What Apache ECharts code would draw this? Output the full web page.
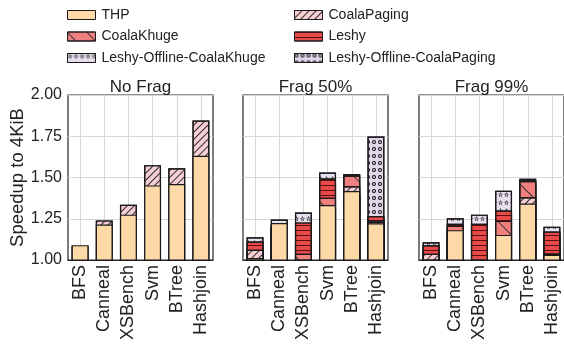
<!DOCTYPE html>
<html>
<head>
<meta charset="utf-8">
<script src="https://cdn.jsdelivr.net/npm/echarts@6/dist/echarts.min.js"></script>
<style>
html, body { margin: 0; padding: 0; background: #fff; }
#chart { width: 564px; height: 345px; }
</style>
</head>
<body>
<div id="chart"></div>
<script>
// ---- data ----
const categories = ['BFS', 'Canneal', 'XSBench', 'Svm', 'BTree', 'Hashjoin'];
const methods = ['THP', 'CoalaPaging', 'CoalaKhuge', 'Leshy', 'Leshy-Offline-CoalaKhuge', 'Leshy-Offline-CoalaPaging'];
const panelTitles = ['No Frag', 'Frag 50%', 'Frag 99%'];
const yTicks = [1.00, 1.25, 1.50, 1.75, 2.00];

// No Frag
const noFragTHP         = [1.090, 1.215, 1.275, 1.452, 1.460, 1.632];
const noFragCoalaPaging = [1.085, 1.240, 1.335, 1.575, 1.556, 1.845];
const noFragCoalaKhuge  = [null, null, null, null, null, null];
const noFragLeshy       = [null, null, null, null, null, null];
const noFragLOCK        = [null, null, null, null, null, null];
const noFragLOCP        = [null, null, null, null, null, null];

// Frag 50%
const frag50THP         = [1.012, 1.224, 0.990, 1.333, 1.418, 1.222];
const frag50CoalaPaging = [1.062, 1.200, 1.000, 1.310, 1.447, 1.232];
const frag50CoalaKhuge  = [1.005, 1.190, 1.038, 1.377, 1.512, 1.240];
const frag50Leshy       = [1.112, 1.210, 1.228, 1.494, 1.521, 1.266];
const frag50LOCK        = [1.138, 1.245, 1.288, 1.530, 1.400, 1.245];
const frag50LOCP        = [1.050, 1.215, 1.100, 1.450, 1.380, 1.748];

// Frag 99%
const frag99THP         = [0.980, 1.181, 0.980, 1.152, 1.342, 1.032];
const frag99CoalaPaging = [1.038, 1.150, 0.990, 1.130, 1.380, 1.036];
const frag99CoalaKhuge  = [1.020, 1.207, 1.000, 1.237, 1.478, 1.040];
const frag99Leshy       = [1.089, 1.220, 1.220, 1.300, 1.484, 1.172];
const frag99LOCK        = [1.108, 1.253, 1.275, 1.420, 1.492, 1.202];
const frag99LOCP        = [1.060, 1.190, 1.200, 1.280, 1.450, 1.150];

const panels = [
  [noFragTHP, noFragCoalaPaging, noFragCoalaKhuge, noFragLeshy, noFragLOCK, noFragLOCP],
  [frag50THP, frag50CoalaPaging, frag50CoalaKhuge, frag50Leshy, frag50LOCK, frag50LOCP],
  [frag99THP, frag99CoalaPaging, frag99CoalaKhuge, frag99Leshy, frag99LOCK, frag99LOCP]
];

// ---- styles ----
const FONT = '"Liberation Sans", Arial, sans-serif';
const INK = '#222';
const EDGE = '#1a1a1a';

function starRing() {
  // outlined five-point star: outer outline clockwise, inner outline reversed
  const pts = (scale, reverse) => {
    const out = [];
    for (let i = 0; i < 10; i++) {
      const a = -Math.PI / 2 + i * Math.PI / 5;
      const r = (i % 2 === 0 ? 5 : 2.2) * scale;
      out.push([5 + r * Math.cos(a), 5 + r * Math.sin(a)]);
    }
    if (reverse) out.reverse();
    return 'M' + out.map(p => p[0].toFixed(2) + ',' + p[1].toFixed(2)).join('L') + 'Z';
  };
  return 'path://' + pts(1, false) + pts(0.55, true);
}
const ringPath = 'path://M0,5A5,5,0,1,0,10,5A5,5,0,1,0,0,5ZM2.6,5A2.4,2.4,0,1,1,7.4,5A2.4,2.4,0,1,1,2.6,5Z';

const methodStyle = {
  'THP': { color: '#fed9a8' },
  'CoalaPaging': { color: '#f8cfd4', decal: { symbol: 'rect', symbolSize: 1, dashArrayX: [1, 0], dashArrayY: [1, 4], rotation: -Math.PI / 4, color: '#333' } },
  'CoalaKhuge': { color: '#f07f7f', decal: { symbol: 'rect', symbolSize: 1, dashArrayX: [1, 0], dashArrayY: [1, 13], rotation: Math.PI / 4, color: '#333' } },
  'Leshy': { color: '#e84a4a', decal: { symbol: 'rect', symbolSize: 1, dashArrayX: [1, 0], dashArrayY: [1, 4], rotation: 0, color: '#5a1010' } },
  'Leshy-Offline-CoalaKhuge': { color: '#e8e0ee', decal: { symbol: starRing(), symbolSize: 1, dashArrayX: [5, 1], dashArrayY: [5, 3], color: '#111' } },
  'Leshy-Offline-CoalaPaging': { color: '#e2d7ea', decal: { symbol: ringPath, symbolSize: 1, dashArrayX: [4, 2], dashArrayY: [4, 3], color: '#111' } }
};

function itemStyleOf(m) {
  const s = methodStyle[m];
  const st = { color: s.color, borderColor: EDGE, borderWidth: 1.2 };
  if (s.decal) st.decal = s.decal;
  return st;
}

// ---- layout ----
const gridLeft = [68, 243, 419];
const gridWidth = 145;
const gridTop = 95;
const gridHeight = 165;

const grids = gridLeft.map(l => ({
  left: l, top: gridTop, width: gridWidth, height: gridHeight,
  show: true, borderColor: '#262626', borderWidth: 1.2, backgroundColor: 'transparent'
}));

const xAxes = gridLeft.map((_, p) => ({
  type: 'category', gridIndex: p, data: categories,
  axisLine: { show: true, lineStyle: { color: '#262626', width: 1.2 } },
  axisTick: { show: false },
  axisLabel: { rotate: 90, margin: 5, fontSize: 18, color: INK, fontFamily: FONT, interval: 0 },
  splitLine: { show: true, alignWithLabel: true, lineStyle: { color: '#d7d7d7', width: 1 } }
}));

const yAxes = gridLeft.map((_, p) => ({
  type: 'value', gridIndex: p, min: yTicks[0], max: yTicks[yTicks.length - 1], interval: 0.25,
  axisLine: { show: false }, axisTick: { show: false },
  axisLabel: { show: p === 0, fontSize: 16, color: INK, fontFamily: FONT, margin: 6, formatter: v => v.toFixed(2) },
  splitLine: { show: true, lineStyle: { color: '#d7d7d7', width: 1 } },
  name: p === 0 ? 'Speedup to 4KiB' : '', nameLocation: 'middle', nameGap: 38,
  nameTextStyle: { fontSize: 18.5, color: INK, fontFamily: FONT }
}));

// Overlapping full-height bars from the baseline: the later series in the list
// sit in front, so THP is drawn last and each method shows only where it
// rises above the methods in front of it.
const series = [];
panels.forEach((vals, p) => {
  for (let k = methods.length - 1; k >= 0; k--) {
    series.push({
      type: 'bar', xAxisIndex: p, yAxisIndex: p, barWidth: '70%', barGap: '-100%',
      silent: true, animation: false,
      itemStyle: itemStyleOf(methods[k]),
      data: vals[k].map(v => (v == null ? '-' : v))
    });
  }
});

// named entries for the legend
methods.forEach(m => {
  series.push({ type: 'bar', name: m, xAxisIndex: 0, yAxisIndex: 0, barWidth: '70%', barGap: '-100%', data: [], itemStyle: itemStyleOf(m) });
});

const legendCommon = {
  orient: 'vertical', icon: 'rect', itemWidth: 28, itemHeight: 9, itemGap: 7.5,
  itemStyle: { borderColor: EDGE, borderWidth: 1 },
  textStyle: { fontSize: 14, lineHeight: 14, color: INK, fontFamily: FONT, padding: [0, 0, 0, 1] },
  selectedMode: false
};

const option = {
  backgroundColor: '#fff',
  animation: false,
  grid: grids,
  xAxis: xAxes,
  yAxis: yAxes,
  legend: [
    Object.assign({ left: 62, top: 3, data: ['THP', 'CoalaKhuge', 'Leshy-Offline-CoalaKhuge'] }, legendCommon),
    Object.assign({ left: 289, top: 3, data: ['CoalaPaging', 'Leshy', 'Leshy-Offline-CoalaPaging'] }, legendCommon)
  ],
  graphic: panelTitles.map((t, p) => ({
    type: 'text', x: gridLeft[p] + gridWidth / 2, y: 79,
    style: { text: t, align: 'center', verticalAlign: 'top', fontSize: 17, fill: INK, fontFamily: FONT }
  })),
  series
};

const chart = echarts.init(document.getElementById('chart'), null, { renderer: 'canvas' });
chart.setOption(option);
</script>
</body>
</html>
